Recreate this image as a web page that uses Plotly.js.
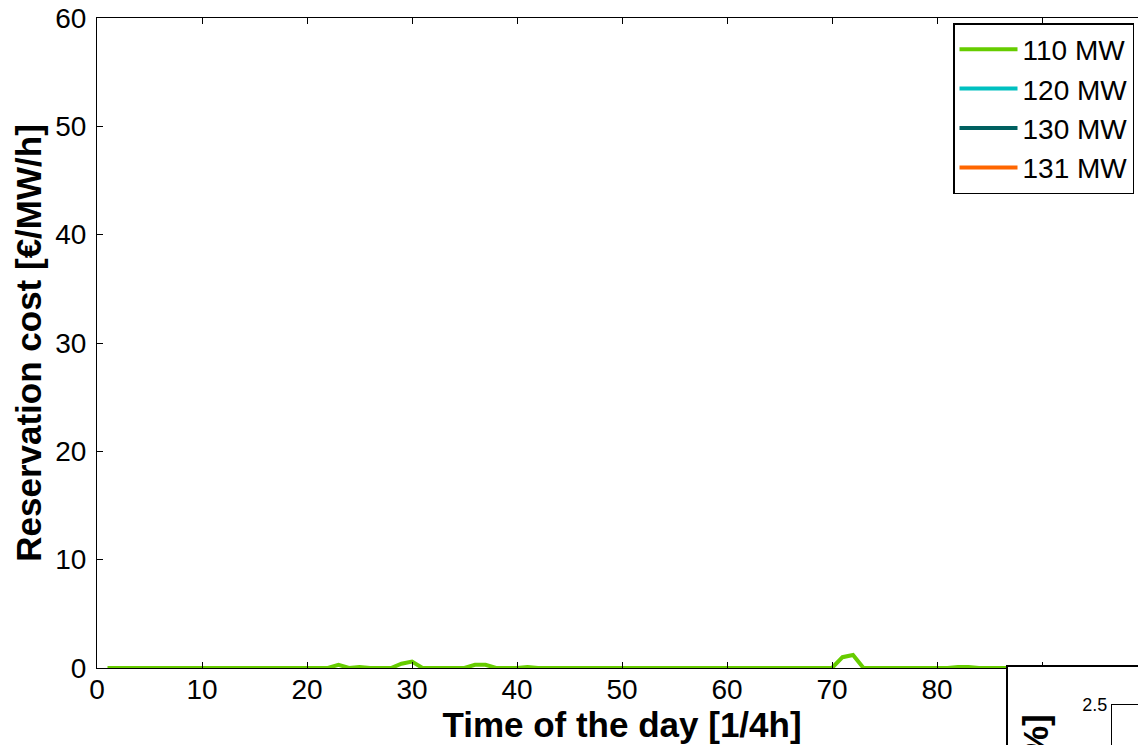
<!DOCTYPE html>
<html>
<head>
<meta charset="utf-8">
<script src="https://cdn.plot.ly/plotly-3.0.1.min.js"></script>
<style>
html,body{margin:0;padding:0;overflow:hidden;background:#fff;width:1138px;height:745px;}
#chart{width:1300px;height:900px;}
</style>
</head>
<body>
<div id="chart"></div>
<script>
// Time of day in quarter hours
const timeSlots = Array.from({length: 96}, (_, i) => i + 1);
// Reservation cost [€/MW/h] for 110 MW (zero except small bumps)
const cost110 = [
  0,0,0,0,0,0,0,0,0,0,            // 1-10
  0,0,0,0,0,0,0,0,0,0,            // 11-20
  0,0,0.3,0,0.1,0,0,0,0.4,0.6,    // 21-30
  0,0,0,0,0,0.3,0.3,0,0,0,        // 31-40
  0.1,0,0,0,0,0,0,0,0,0,          // 41-50
  0,0,0.05,0,0,0,0,0,0,0,         // 51-60
  0,0,0,0,0,0,0,0,0,0,            // 61-70
  1.0,1.2,0,0,0,0,0,0,0,0,        // 71-80
  0,0.1,0.1,0,0,0,0,0,0,0,        // 81-90
  0,0,0,0,0,0                     // 91-96
];
// Other series are not visible in the picture
const cost120 = timeSlots.map(() => null);
const cost130 = timeSlots.map(() => null);
const cost131 = timeSlots.map(() => null);

const seriesNames = ['110 MW', '120 MW', '130 MW', '131 MW'];
const seriesColors = ['#66cc00', '#00c0c0', '#006060', '#ff6600'];
const seriesData = [cost110, cost120, cost130, cost131];

const xTicks = [0,10,20,30,40,50,60,70,80,90,100];
const yTicks = [0,10,20,30,40,50,60];
const insetYTicks = [2.5];

const W = 1300, H = 900;
const px = v => v / W;
const py = v => (H - v) / H;
const FONT = '"Liberation Sans", Arial, sans-serif';

const traces = [];
// draw in reverse so 110 MW lies on top
for (let i = seriesNames.length - 1; i >= 0; i--) {
  traces.push({
    x: timeSlots, y: seriesData[i], type: 'scatter', mode: 'lines',
    name: seriesNames[i], line: {color: seriesColors[i], width: 4},
    xaxis: 'x', yaxis: 'y', hoverinfo: 'skip'
  });
}
// white panel of the inset figure
traces.push({
  x: [0, 1, 1, 0, 0], y: [0, 0, 1, 1, 0], type: 'scatter', mode: 'lines',
  fill: 'toself', fillcolor: '#ffffff', line: {width: 0, color: '#ffffff'},
  xaxis: 'x2', yaxis: 'y2', showlegend: false, hoverinfo: 'skip'
});
// inset axes (empty in visible area)
traces.push({
  x: [], y: [], type: 'scatter', mode: 'lines',
  xaxis: 'x3', yaxis: 'y3', showlegend: false, hoverinfo: 'skip'
});

const axBase = {
  showline: true, mirror: 'ticks', linecolor: '#000', linewidth: 1,
  ticks: 'inside', ticklen: 6, tickcolor: '#000', showgrid: false, zeroline: false,
  tickfont: {family: FONT, size: 28, color: '#000'}
};

const layout = {
  width: W, height: H,
  margin: {l: 0, r: 0, t: 0, b: 0},
  paper_bgcolor: '#fff', plot_bgcolor: 'rgba(0,0,0,0)',
  font: {family: FONT, color: '#000'},
  showlegend: true,
  legend: {
    x: px(953), y: py(23), xanchor: 'left', yanchor: 'top',
    bgcolor: '#fff', bordercolor: '#000', borderwidth: 1.5,
    font: {family: FONT, size: 28, color: '#000'},
    traceorder: 'reversed', itemwidth: 58
  },
  xaxis: Object.assign({}, axBase, {
    domain: [px(97), px(1147)], range: [0, 100],
    tickvals: xTicks, ticktext: xTicks.map(String), anchor: 'y',
    ticklabelstandoff: -4,
    title: {text: '<b>Time of the day [1/4h]</b>', font: {family: FONT, size: 35, color: '#000'}, standoff: 0}
  }),
  yaxis: Object.assign({}, axBase, {
    domain: [py(668), py(18)], range: [0, 60],
    tickvals: yTicks, ticktext: yTicks.map(String), anchor: 'x',
    ticklabelstandoff: 4,
    title: {text: '<b>Reservation cost [€/MW/h]</b>', font: {family: FONT, size: 35, color: '#000'}, standoff: 2}
  }),
  xaxis2: {
    domain: [px(1008), 1], range: [0, 1], anchor: 'y2',
    showline: true, mirror: true, linecolor: '#000', linewidth: 2,
    showticklabels: false, ticks: '', showgrid: false, zeroline: false, fixedrange: true
  },
  yaxis2: {
    domain: [0, py(667)], range: [0, 1], anchor: 'x2',
    showline: true, mirror: true, linecolor: '#000', linewidth: 2,
    showticklabels: false, ticks: '', showgrid: false, zeroline: false, fixedrange: true
  },
  xaxis3: Object.assign({}, axBase, {
    domain: [px(1112), px(1290)], range: [0, 100], anchor: 'y3',
    showticklabels: false
  }),
  yaxis3: Object.assign({}, axBase, {
    domain: [py(885), py(705)], range: [0, 2.5], anchor: 'x3',
    tickvals: insetYTicks, ticktext: ['2.5'], ticklen: 4,
    tickfont: {family: FONT, size: 18, color: '#000'},
    title: {text: '<b>Share [%]</b>', font: {family: FONT, size: 35, color: '#000'}, standoff: 23}
  })
};

Plotly.newPlot('chart', traces, layout, {displayModeBar: false, staticPlot: true});
</script>
</body>
</html>
